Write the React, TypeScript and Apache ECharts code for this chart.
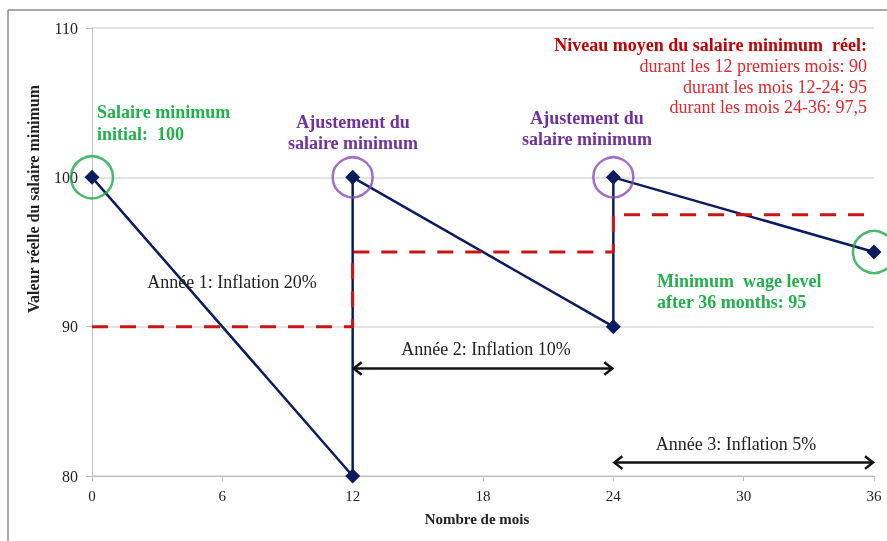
import React, { useEffect, useRef } from "react";
import * as echarts from "echarts";

const xTicks = [0, 6, 12, 18, 24, 30, 36];
const wagePath: [number, number][] = [
  [0, 100], [12, 80], [12, 100], [24, 90], [24, 100], [36, 95],
];
const averagePath: [number, number][] = [
  [0, 90], [12, 90], [12, 95], [24, 95], [24, 97.5], [36, 97.5],
];
const greenCircles: [number, number][] = [[0, 100], [36, 95]];
const purpleCircles: [number, number][] = [[12, 100], [24, 100]];
// [fromMonth, toMonth, level]
const arrows: [number, number, number][] = [[12, 24, 87.2], [24, 36, 80.9]];

const serif = "'Liberation Serif', 'Times New Roman', serif";
const NAVY = "#0c1c5e";
const RED = "#cc1414";
const GREEN = "#22b04b";
const PURPLE = "#7030a0";

export default function App() {
  const ref = useRef<HTMLDivElement>(null);
  useEffect(() => {
    document.body.style.margin = "0";
    const chart = echarts.init(ref.current!, undefined, { renderer: "svg" });
    const txt = (
      x: number, y: number, text: string, color: string,
      opts: { bold?: boolean; align?: string; size?: number; lh?: number } = {}
    ) => ({
      type: "text", x, y, z: 100,
      style: {
        text, fill: color, fontFamily: serif,
        fontSize: opts.size ?? 18,
        fontWeight: opts.bold ? "bold" : "normal",
        align: opts.align ?? "left", verticalAlign: "middle",
        lineHeight: opts.lh ?? 21,
      },
    });
    chart.setOption({
      animation: false,
      grid: { left: 92, right: 13, top: 28, bottom: 65 },
      xAxis: {
        type: "value", min: 0, max: 36, interval: 6,
        axisLine: { show: true, lineStyle: { color: "#bfbfbf" } },
        axisTick: { show: true, length: 5, lineStyle: { color: "#bfbfbf" } },
        splitLine: { show: false },
        axisLabel: {
          color: "#222", fontFamily: serif, fontSize: 15, margin: 12,
          customValues: xTicks,
        },
      },
      yAxis: {
        type: "value", min: 80, max: 110, interval: 10,
        axisLine: { show: true, lineStyle: { color: "#bfbfbf" } },
        axisTick: { show: true, length: 6, lineStyle: { color: "#bfbfbf" } },
        splitLine: { show: true, lineStyle: { color: "#d9d9d9", width: 1.5 } },
        axisLabel: { color: "#222", fontFamily: serif, fontSize: 16, margin: 14 },
      },
      graphic: [
        { type: "line", shape: { x1: 8, y1: 10, x2: 887, y2: 10 }, style: { stroke: "#8c8c8c", lineWidth: 1.5 } },
        { type: "line", shape: { x1: 8, y1: 10, x2: 8, y2: 541 }, style: { stroke: "#8c8c8c", lineWidth: 1.5 } },
        txt(97, 112, "Salaire minimum", GREEN, { bold: true }),
        txt(97, 134, "initial:  100", GREEN, { bold: true }),
        txt(353, 122, "Ajustement du", PURPLE, { bold: true, align: "center" }),
        txt(353, 143, "salaire minimum", PURPLE, { bold: true, align: "center" }),
        txt(587, 118, "Ajustement du", PURPLE, { bold: true, align: "center" }),
        txt(587, 139, "salaire minimum", PURPLE, { bold: true, align: "center" }),
        txt(657, 281, "Minimum  wage level", GREEN, { bold: true }),
        txt(657, 302, "after 36 months: 95", GREEN, { bold: true }),
        txt(867, 45, "Niveau moyen du salaire minimum  réel:", "#c00000", { bold: true, align: "right" }),
        txt(867, 66, "durant les 12 premiers mois: 90", "#e0262b", { align: "right" }),
        txt(867, 87, "durant les mois 12-24: 95", "#e0262b", { align: "right" }),
        txt(867, 107, "durant les mois 24-36: 97,5", "#e0262b", { align: "right" }),
        txt(232, 282, "Année 1: Inflation 20%", "#222", { align: "center" }),
        txt(486, 349, "Année 2: Inflation 10%", "#222", { align: "center" }),
        txt(736, 444, "Année 3: Inflation 5%", "#222", { align: "center" }),
        txt(477, 519, "Nombre de mois", "#222", { bold: true, align: "center", size: 15 }),
        {
          type: "text", x: 33, y: 199, rotation: Math.PI / 2, z: 100,
          style: {
            text: "Valeur réelle du salaire minimum", fill: "#222", fontFamily: serif,
            fontSize: 16, fontWeight: "bold", align: "center", verticalAlign: "middle",
          },
        },
      ],
      series: [
        {
          type: "line", data: wagePath, z: 3,
          lineStyle: { color: NAVY, width: 2.5 },
          itemStyle: { color: NAVY },
          symbol: "diamond", symbolSize: 15, showAllSymbol: true,
        },
        {
          type: "line", data: averagePath, z: 4, symbol: "none",
          lineStyle: { color: RED, width: 3, type: [16, 12] },
        },
        {
          type: "scatter", data: greenCircles, symbol: "circle", symbolSize: 42, z: 5,
          itemStyle: { color: "rgba(0,0,0,0)", borderColor: "#1aa84a", borderWidth: 2.5 },
        },
        {
          type: "scatter", data: purpleCircles, symbol: "circle", symbolSize: 40, z: 5,
          itemStyle: { color: "rgba(0,0,0,0)", borderColor: "#8a4cb8", borderWidth: 2.5 },
        },
        {
          type: "custom", data: arrows, z: 6,
          renderItem: (_p: any, api: any) => {
            const a = api.coord([api.value(0), api.value(2)]);
            const b = api.coord([api.value(1), api.value(2)]);
            const h = 9;
            const st = { stroke: "#111", lineWidth: 2.5, fill: "none" };
            return {
              type: "group",
              children: [
                { type: "line", shape: { x1: a[0] + 1, y1: a[1], x2: b[0] - 1, y2: b[1] }, style: st },
                { type: "polyline", shape: { points: [[a[0] + h, a[1] - h * 0.7], [a[0] + 1, a[1]], [a[0] + h, a[1] + h * 0.7]] }, style: st },
                { type: "polyline", shape: { points: [[b[0] - h, b[1] - h * 0.7], [b[0] - 1, b[1]], [b[0] - h, b[1] + h * 0.7]] }, style: st },
              ],
            };
          },
        },
      ],
    });
    return () => chart.dispose();
  }, []);
  return <div ref={ref} style={{ position: "fixed", left: 0, top: 0, width: 887, height: 541 }} />;
}
